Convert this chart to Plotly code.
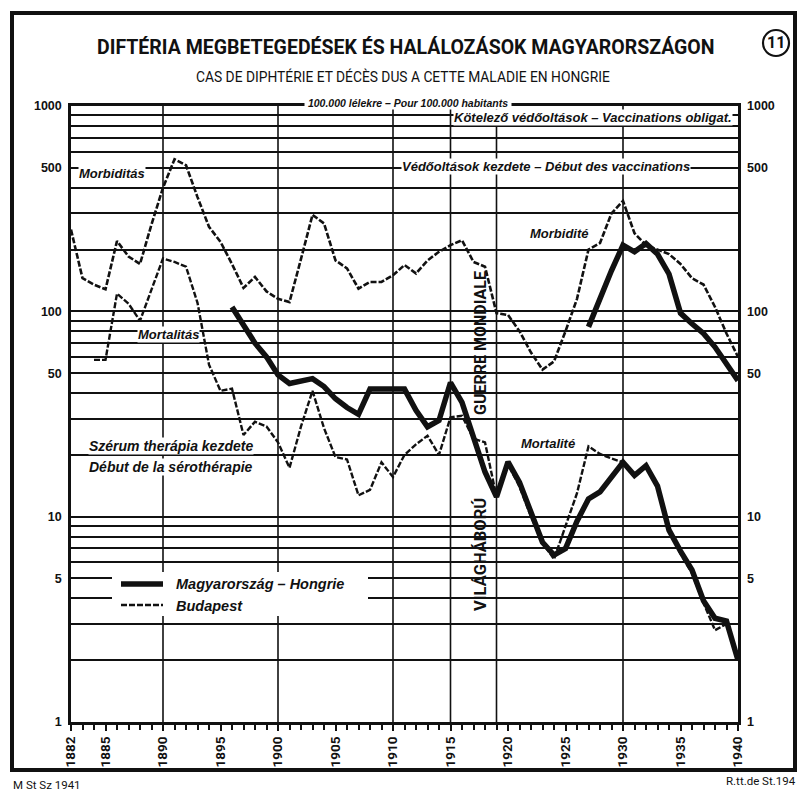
import plotly.graph_objects as go

# ---------------- data (per 100,000 inhabitants) ----------------
bp_morb_years = list(range(1882, 1941))
bp_morb = [250, 145, 135, 128, 220, 185, 170, 265, 400, 550,
           515, 360, 258, 218, 170, 130, 147, 125, 115, 111,
           180, 295, 268, 177, 162, 129, 139, 139, 150, 168,
           153, 177, 195, 210, 222, 174, 165, 98, 96, 80,
           63, 52, 57, 80, 115, 200, 215, 300, 345, 240,
           210, 200, 190, 170, 145, 135, 105, 78, 60]

bp_mort_years = list(range(1884, 1941))
bp_mort = [58, 58, 122, 109, 90, 128, 181, 174, 165, 110,
           55, 41, 42, 25, 29, 27.5, 23, 17.3, 27.5, 41,
           27, 19.5, 19, 12.7, 13.5, 18.4, 15.6, 20, 22.5, 24.8,
           20, 30.5, 31, 24, 23, 12.5, 18, 14, 10, 7.5,
           6.2, 9, 13, 22, 20.2, 19.2, 18.4, 15.6, 17.5, 13.8,
           8.6, 6.6, 5.3, 3.8, 2.8, 3.0, 2.1]

hu_mort_years = list(range(1896, 1941))
hu_mort = [105, 85, 70, 60, 49, 44.5, 46, 47, 43, 37.5,
           34, 31.5, 41.8, 41.8, 41.8, 41.8, 33, 27.4, 29.4, 45,
           36, 24, 16.5, 12.5, 18.5, 14.7, 10.5, 7.5, 6.5, 7.0,
           9.5, 12.2, 13.2, 15.5, 18.4, 15.9, 17.7, 14.1, 8.6, 6.8,
           5.5, 3.9, 3.2, 3.1, 2.0]

hu_morb_years = list(range(1927, 1941))
hu_morb = [84, 116, 158, 210, 195, 214, 190, 152, 98, 87, 78, 67, 55, 46]

x_tick_vals = [1882, 1885, 1890, 1895, 1900, 1905, 1910, 1915, 1920, 1925, 1930, 1935, 1940]
y_tick_vals = [1, 5, 10, 50, 100, 500, 1000]
y_minor_vals = [2, 3, 4, 6, 7, 8, 9, 20, 30, 40, 60, 70, 80, 90,
                200, 300, 400, 600, 700, 800, 900]
v_grid_years = [1890, 1900, 1910, 1915, 1919, 1930]

# ---------------- geometry helpers ----------------
W, H = 797, 791
L, R, T, B = 71, 59, 106, 69
PW = W - L - R
PH = H - T - B


def px(x):
    return (x - L) / PW


def py(y):
    return (H - B - y) / PH


NARROW = "Roboto, Liberation Sans, sans-serif"
SANS = "Liberation Sans, Arial, sans-serif"
BLACK = "#111111"

fig = go.Figure()

dash_bp = "6px,2px"
fig.add_trace(go.Scatter(x=bp_morb_years, y=bp_morb, mode="lines", name="Budapest – morbidité",
                         line=dict(color=BLACK, width=2.6, dash=dash_bp), showlegend=False))
fig.add_trace(go.Scatter(x=bp_mort_years, y=bp_mort, mode="lines", name="Budapest – mortalité",
                         line=dict(color=BLACK, width=2.4, dash=dash_bp), showlegend=False,
                         yaxis="y2"))
fig.add_trace(go.Scatter(x=hu_mort_years, y=hu_mort, mode="lines", name="Magyarország – mortalité",
                         line=dict(color=BLACK, width=5.5), showlegend=False))
fig.add_trace(go.Scatter(x=hu_morb_years, y=hu_morb, mode="lines", name="Magyarország – morbidité",
                         line=dict(color=BLACK, width=5.5), showlegend=False))

shapes = []
# outer frame
shapes.append(dict(type="rect", xref="paper", yref="paper", x0=px(12), x1=px(795), y0=py(770), y1=py(13),
                   line=dict(color=BLACK, width=4), fillcolor="rgba(0,0,0,0)", layer="below"))
# vertical grid lines
for yr in v_grid_years:
    shapes.append(dict(type="line", xref="x", yref="paper", x0=yr, x1=yr, y0=0, y1=1,
                       line=dict(color=BLACK, width=1.6), layer="below"))
# circled number
shapes.append(dict(type="circle", xref="paper", yref="paper", x0=px(763), x1=px(789), y0=py(56), y1=py(30),
                   line=dict(color=BLACK, width=2.2)))
# legend box & samples
shapes.append(dict(type="rect", xref="paper", yref="paper", x0=px(112), x1=px(368), y0=py(616), y1=py(572),
                   line=dict(width=0), fillcolor="white", layer="above"))
shapes.append(dict(type="line", xref="paper", yref="paper", x0=px(121), x1=px(163), y0=py(584), y1=py(584),
                   line=dict(color=BLACK, width=5.5), layer="above"))
shapes.append(dict(type="line", xref="paper", yref="paper", x0=px(121), x1=px(163), y0=py(605), y1=py(605),
                   line=dict(color=BLACK, width=2.4, dash=dash_bp), layer="above"))

ann = []


def text(x, y, s, size, family=SANS, xanchor="left", bg=None, angle=0, yanchor="middle"):
    d = dict(xref="paper", yref="paper", x=px(x), y=py(y), text=s, showarrow=False,
             font=dict(family=family, size=size, color=BLACK), xanchor=xanchor, yanchor=yanchor,
             textangle=angle, borderpad=0)
    if bg:
        d["bgcolor"] = bg
    ann.append(d)


text(406, 47, "<b>DIFTÉRIA MEGBETEGEDÉSEK ÉS HALÁLOZÁSOK MAGYARORSZÁGON</b>", 19.5, NARROW, "center")
text(403, 76, "CAS DE DIPHTÉRIE ET DÉCÈS DUS A CETTE MALADIE EN HONGRIE", 13.8, NARROW, "center")
text(776, 43, "<b>11</b>", 16, NARROW, "center")
text(408, 103, "<b><i> 100.000 lélekre – Pour 100.000 habitants </i></b>", 10.5, SANS, "center", "white")
text(733, 118, "<b><i>Kötelező védőoltások – Vaccinations obligat.</i></b>", 13, SANS, "right", "white")
text(691, 166, "<b><i>Védőoltások kezdete – Début des vaccinations</i></b>", 13, SANS, "right", "white")
text(78, 173, "<b><i>Morbiditás</i></b>", 13, SANS, "left", "white")
text(137, 334, "<b><i>Mortalitás</i></b>", 13, SANS, "left", "white")
text(529, 233, "<b><i>Morbidité</i></b>", 13, SANS, "left", "white")
text(520, 443, "<b><i>Mortalité</i></b>", 13, SANS, "left", "white")
text(88, 446, "<b><i>Szérum therápia kezdete</i></b>", 14, SANS, "left", "white")
text(88, 467, "<b><i>Début de la sérothérapie</i></b>", 14, SANS, "left", "white")
text(175, 584, "<b><i>Magyarország – Hongrie</i></b>", 14.5, SANS, "left")
text(175, 606, "<b><i>Budapest</i></b>", 14.5, SANS, "left")
text(480, 343, "<b>GUERRE MONDIALE</b>", 16, NARROW, "center", None, -90)
text(480, 555, "<b>VILÁGHÁBORÚ</b>", 16.5, NARROW, "center", None, -90)
text(12, 785, "M St Sz 1941", 11.5, NARROW, "left")
text(797, 781, "R.tt.de St.194", 11.5, NARROW, "right")

# arrows (tips in data coordinates)
for (x_tip, y_tip, ay) in [(1932.15, 215, -70), (1937.1, 145, -152), (1894.2, 56.6, 70)]:
    ann.append(dict(xref="x", yref="y", x=x_tip, y=y_tip, ax=0, ay=ay, axref="pixel", ayref="pixel",
                    text="", showarrow=True, arrowhead=2, arrowsize=1.1, arrowwidth=1.6,
                    arrowcolor=BLACK))

fig.update_layout(
    width=W, height=H,
    margin=dict(l=L, r=R, t=T, b=B, autoexpand=False),
    paper_bgcolor="white", plot_bgcolor="white",
    showlegend=False,
    shapes=shapes, annotations=ann,
    xaxis=dict(range=[1882, 1940], tickmode="array", tickvals=x_tick_vals,
               ticktext=[f"<b>{v}</b>" for v in x_tick_vals], tickangle=-90,
               tickfont=dict(family=NARROW, size=13.5, color=BLACK),
               ticks="outside", ticklen=6, tickwidth=2, tickcolor=BLACK,
               minor=dict(tickmode="linear", tick0=1882, dtick=1, ticks="outside",
                          ticklen=5, tickwidth=1.5, tickcolor=BLACK, showgrid=False),
               showgrid=False, zeroline=False,
               showline=True, linewidth=3, linecolor=BLACK, mirror=True),
    yaxis=dict(type="log", range=[0, 3], tickmode="array", tickvals=y_tick_vals,
               ticktext=[f"<b>{v}</b>" for v in y_tick_vals],
               tickfont=dict(family=SANS, size=12.5, color=BLACK),
               ticks="", showgrid=True, gridcolor=BLACK, gridwidth=1.6,
               minor=dict(tickmode="array", tickvals=y_minor_vals, showgrid=True,
                          gridcolor=BLACK, gridwidth=1.6, ticks=""),
               zeroline=False, showline=True, linewidth=2.5, linecolor=BLACK, mirror=True,
               ticklabelstandoff=4),
    yaxis2=dict(type="log", range=[0, 3], overlaying="y", side="right", tickmode="array",
                tickvals=y_tick_vals, ticktext=[f"<b>{v}</b>" for v in y_tick_vals],
                tickfont=dict(family=SANS, size=12.5, color=BLACK),
                ticks="", showgrid=False, zeroline=False, showline=False,
                ticklabelstandoff=8),
)

fig.write_html("out.html", config={"displayModeBar": False},
               post_script="document.body.style.margin='0';")
